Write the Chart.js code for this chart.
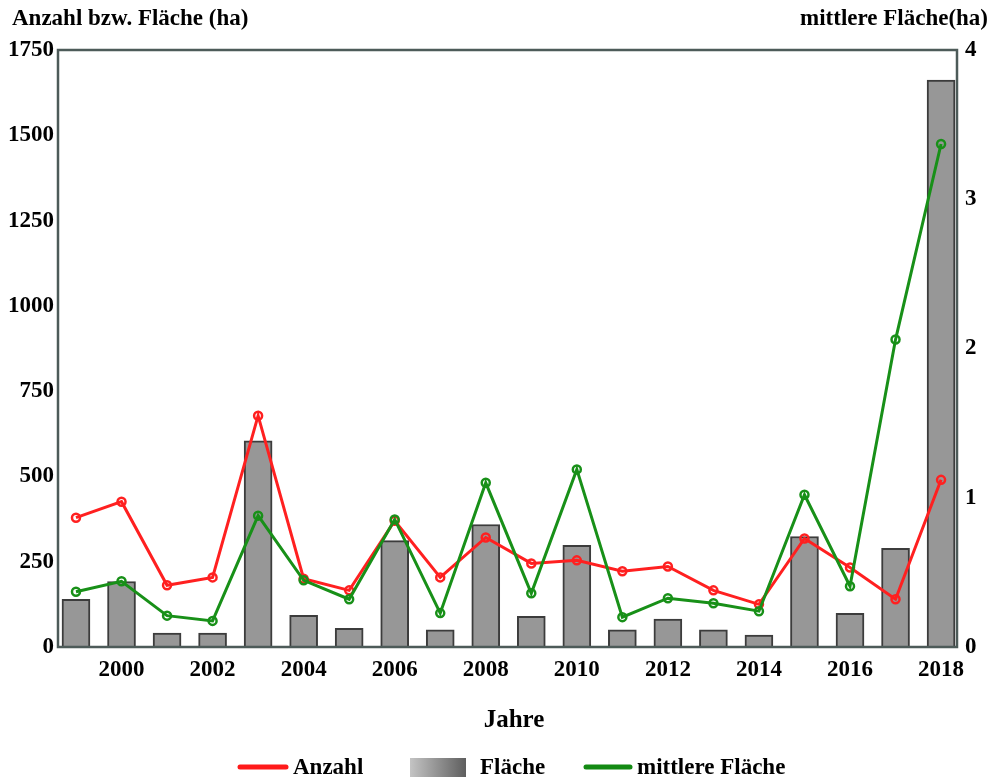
<!DOCTYPE html>
<html>
<head>
<meta charset="utf-8">
<script src="https://cdn.jsdelivr.net/npm/chart.js@4.4.1/dist/chart.umd.min.js"></script>
<style>
  body{margin:0;background:#fff;}
  #wrap{width:991px;height:780px;position:relative;}
</style>
</head>
<body>
<div id="wrap"><canvas id="myChart"></canvas></div>
<script>
const years=[1999,2000,2001,2002,2003,2004,2005,2006,2007,2008,2009,2010,2011,2012,2013,2014,2015,2016,2017,2018];
const anzahl=[379,426,181,204,678,200,166,370,204,321,245,254,222,236,166,125,318,233,140,490];
const flaeche=[140,192,41,41,604,93,55,312,50,359,90,298,50,82,50,35,324,99,289,1662];
const mittlere=[0.37,0.44,0.21,0.175,0.88,0.447,0.32,0.855,0.227,1.10,0.36,1.19,0.2,0.327,0.293,0.24,1.02,0.407,2.06,3.37];
const xTicks=[2000,2002,2004,2006,2008,2010,2012,2014,2016,2018];

const FONT="'Liberation Serif','Times New Roman',serif";

const overlay={
  id:"overlay",
  afterDatasetsDraw(chart){
    const c=chart.ctx, a=chart.chartArea;
    c.save();
    c.strokeStyle="#4d5b59";
    c.lineWidth=2.5;
    c.strokeRect(a.left,a.top,a.right-a.left,a.bottom-a.top);
    c.restore();
  },
  afterDraw(chart){
    const c=chart.ctx;
    c.save();
    c.fillStyle="#000";
    c.font="bold 23px "+FONT;
    c.textBaseline="alphabetic";
    c.textAlign="left";
    c.fillText("Anzahl bzw. Fläche (ha)",12,25);
    c.textAlign="right";
    c.fillText("mittlere Fläche(ha)",988,25);
    c.font="bold 25px "+FONT;
    c.textAlign="center";
    c.fillText("Jahre",514,727);

    // legend
    c.font="bold 23px "+FONT;
    c.lineCap="round";
    c.lineWidth=5;
    c.strokeStyle="#ff1a1a";
    c.beginPath();c.moveTo(240,767);c.lineTo(286,767);c.stroke();
    c.strokeStyle="#138a13";
    c.beginPath();c.moveTo(586,767);c.lineTo(630,767);c.stroke();
    const g=c.createLinearGradient(410,0,466,0);
    g.addColorStop(0,"#c4c4c4");
    g.addColorStop(1,"#5e5e5e");
    c.fillStyle=g;
    c.fillRect(410,758,56,19);
    c.fillStyle="#000";
    c.textAlign="left";
    c.textBaseline="middle";
    c.fillText("Anzahl",293,768);
    c.fillText("Fläche",480,768);
    c.fillText("mittlere Fläche",637,768);
    c.restore();
  }
};

new Chart("myChart",{
  data:{
    datasets:[
      {
        type:"line",
        label:"Anzahl",
        data:years.map((y,i)=>({x:y,y:anzahl[i]})),
        yAxisID:"y",
        borderColor:"#ff2020",
        borderWidth:3,
        pointRadius:4,
        pointBorderWidth:2.5,
        pointBackgroundColor:"rgba(255,255,255,0)",
        pointBorderColor:"#ff2020",
        lineTension:0,
        order:2
      },
      {
        type:"line",
        label:"mittlere Fläche",
        data:years.map((y,i)=>({x:y,y:mittlere[i]})),
        yAxisID:"y1",
        borderColor:"#189018",
        borderWidth:3,
        pointRadius:4,
        pointBorderWidth:2.5,
        pointBackgroundColor:"rgba(255,255,255,0)",
        pointBorderColor:"#189018",
        lineTension:0,
        order:1
      },
      {
        type:"bar",
        label:"Fläche",
        data:years.map((y,i)=>({x:y,y:flaeche[i]})),
        yAxisID:"y",
        backgroundColor:"#979797",
        borderColor:"#3c3c3c",
        borderWidth:2,
        barThickness:28,
        order:3
      }
    ]
  },
  options:{
    responsive:true,
    maintainAspectRatio:false,
    animation:false,
    layout:{padding:{top:50,left:0,right:0,bottom:0}},
    plugins:{legend:{display:false},tooltip:{enabled:false}},
    scales:{
      x:{
        type:"linear",
        offset:false,
        min:1998.605,
        max:2018.35,
        grid:{display:false,drawTicks:false},
        border:{display:false},
        afterBuildTicks(scale){scale.ticks=xTicks.map(v=>({value:v}));},
        afterFit(scale){scale.height=133;},
        ticks:{
          padding:9,
          color:"#000",
          font:{family:FONT,size:23,weight:"bold"},
          callback:v=>String(v)
        }
      },
      y:{
        position:"left",
        min:0,
        max:1750,
        grid:{display:false,drawTicks:false},
        border:{display:false},
        afterFit(scale){scale.width=58;},
        ticks:{
          stepSize:250,
          padding:4,
          color:"#000",
          font:{family:FONT,size:23,weight:"bold"},
          callback:v=>String(v)
        }
      },
      y1:{
        position:"right",
        min:0,
        max:4,
        grid:{display:false,drawTicks:false},
        border:{display:false},
        afterFit(scale){scale.width=34;},
        ticks:{
          stepSize:1,
          padding:8,
          color:"#000",
          font:{family:FONT,size:23,weight:"bold"},
          callback:v=>String(v)
        }
      }
    }
  },
  plugins:[overlay]
});
</script>
</body>
</html>
